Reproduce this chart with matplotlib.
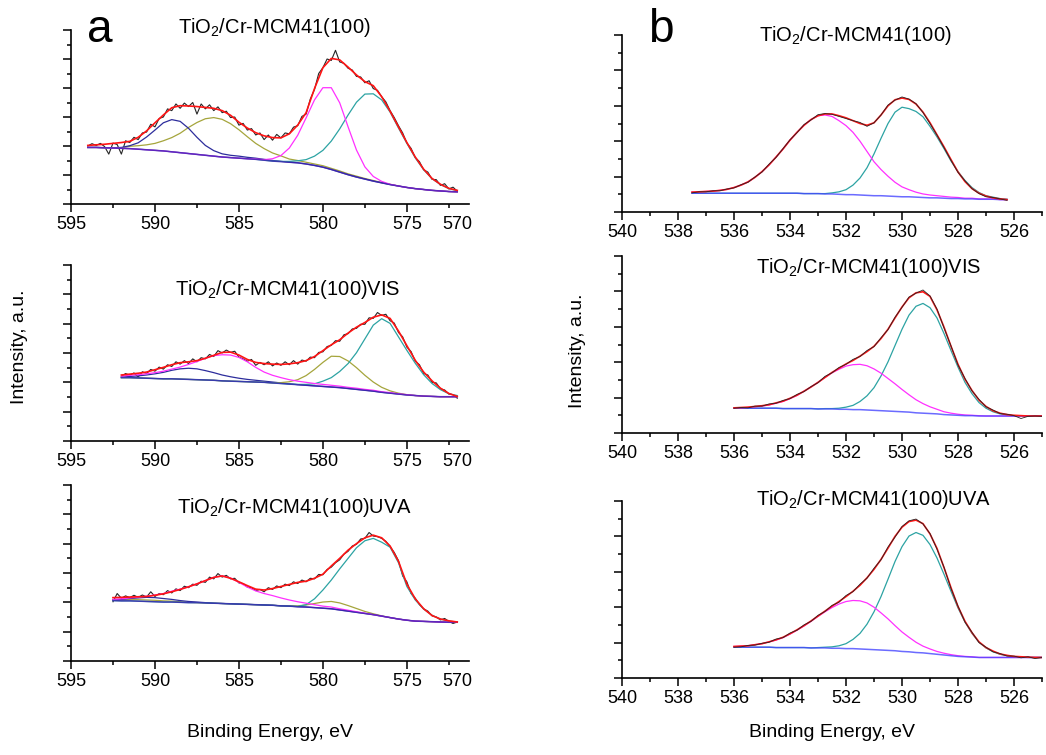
import numpy as np
import matplotlib
matplotlib.use("Agg")
import matplotlib.pyplot as plt
from matplotlib.ticker import MultipleLocator

plt.rcParams['font.family'] = ['Liberation Sans', 'DejaVu Sans']
plt.rcParams['mathtext.fontset'] = 'custom'
plt.rcParams['mathtext.rm'] = 'Liberation Sans'

# ---------------- Cr 2p (column a) ----------------
# energy ranges (eV) for raw data / fitted curves
cr_top_range = (594.0, 572.0)
cr_vis_range = (592.0, 572.0)
cr_uva_range = (592.5, 572.0)

# TiO2/Cr-MCM41(100)
cr_top_raw = [2.00, 2.08, 2.02, 2.09, 1.98, 1.72, 2.10, 2.05, 1.72, 2.18,
              2.12, 2.30, 2.22, 2.45, 2.48, 2.75, 2.66, 2.95, 3.00, 3.28,
              3.22, 3.45, 3.30, 3.48, 3.36, 3.50, 3.10, 3.45, 3.28, 3.42,
              3.22, 3.35, 3.15, 3.20, 2.98, 3.00, 2.72, 2.78, 2.55, 2.60,
              2.38, 2.45, 2.22, 2.38, 2.20, 2.40, 2.28, 2.45, 2.42, 2.65,
              2.70, 3.02, 3.10, 3.62, 3.95, 4.50, 4.70, 5.00, 4.95, 5.30,
              4.90, 4.85, 4.68, 4.62, 4.40, 4.38, 4.18, 4.25, 3.98, 3.92,
              3.70, 3.52, 3.22, 2.98, 2.70, 2.45, 2.10, 1.92, 1.60, 1.46,
              1.18, 1.10, 0.85, 0.84, 0.64, 0.70, 0.52, 0.58, 0.44]
cr_top_fit = [2.02, 2.04, 2.06, 2.09, 2.12, 2.16, 2.30, 2.52, 2.80, 3.07,
              3.32, 3.39, 3.38, 3.36, 3.33, 3.30, 3.22, 3.06, 2.82, 2.62,
              2.46, 2.35, 2.29, 2.28, 2.42, 2.72, 3.15, 3.98, 4.70, 5.02,
              4.97, 4.72, 4.45, 4.22, 4.08, 3.70, 3.20, 2.66, 2.12, 1.62,
              1.20, 0.88, 0.68, 0.54, 0.47]
cr_top_bg = [1.95, 1.95, 1.94, 1.93, 1.92, 1.91, 1.89, 1.87, 1.85, 1.83,
             1.80, 1.77, 1.74, 1.71, 1.68, 1.65, 1.62, 1.60, 1.58, 1.56,
             1.54, 1.51, 1.48, 1.46, 1.44, 1.42, 1.38, 1.33, 1.27, 1.19,
             1.10, 1.01, 0.93, 0.86, 0.79, 0.73, 0.67, 0.62, 0.57, 0.53,
             0.50, 0.47, 0.45, 0.43, 0.42]
cr_top_blue = [0.0, 0.0, 0.0, 0.01, 0.03, 0.10, 0.22, 0.44, 0.70, 0.97,
               1.11, 1.08, 0.87, 0.59, 0.34, 0.19, 0.11, 0.08, 0.07, 0.05,
               0.04, 0.03, 0.02, 0.01] + [0.0] * 21
cr_top_olive = [0.0, 0.0, 0.0, 0.01, 0.02, 0.08, 0.12, 0.17, 0.24, 0.35,
                0.49, 0.67, 0.90, 1.10, 1.26, 1.33, 1.30, 1.17, 0.98, 0.76,
                0.55, 0.40, 0.28, 0.20, 0.11, 0.08, 0.06, 0.05, 0.05, 0.04,
                0.04, 0.03, 0.03, 0.02, 0.02, 0.01, 0.01] + [0.0] * 8
cr_top_magenta = [0.0] * 20 + [0.01, 0.02, 0.08, 0.21, 0.49, 0.95, 1.59, 2.26,
                               2.74, 2.82, 2.39, 1.65, 0.93, 0.42, 0.16, 0.05,
                               0.01] + [0.0] * 8
cr_top_teal = [0.0] * 22 + [0.0, 0.01, 0.03, 0.07, 0.15, 0.32, 0.58, 0.98,
                            1.49, 2.06, 2.58, 2.93, 3.01, 2.86, 2.50, 2.00,
                            1.52, 1.06, 0.68, 0.40, 0.22, 0.10, 0.04]

# TiO2/Cr-MCM41(100)VIS
cr_vis_raw = [2.20, 2.30, 2.24, 2.32, 2.18, 2.36, 2.30, 2.44, 2.38, 2.52,
              2.45, 2.60, 2.54, 2.70, 2.62, 2.74, 2.64, 2.80, 2.70, 2.84,
              2.80, 2.95, 2.88, 3.08, 3.00, 3.10, 3.02, 3.06, 2.86, 2.80,
              2.72, 2.78, 2.58, 2.68, 2.60, 2.70, 2.56, 2.66, 2.58, 2.70,
              2.60, 2.74, 2.62, 2.76, 2.72, 2.86, 2.84, 3.02, 3.04, 3.22,
              3.26, 3.42, 3.40, 3.62, 3.66, 3.82, 3.84, 3.98, 3.98, 4.20,
              4.18, 4.38, 4.28, 4.32, 4.10, 4.02, 3.70, 3.55, 3.20, 3.05,
              2.72, 2.60, 2.30, 2.25, 2.00, 1.98, 1.78, 1.74, 1.60, 1.58,
              1.46]
cr_vis_fit = [2.25, 2.28, 2.31, 2.35, 2.43, 2.51, 2.60, 2.67, 2.70, 2.74,
              2.82, 2.92, 3.02, 3.03, 2.93, 2.78, 2.68, 2.64, 2.62, 2.61,
              2.63, 2.67, 2.74, 2.88, 3.08, 3.28, 3.45, 3.68, 3.88, 4.04,
              4.22, 4.30, 4.18, 3.75, 3.25, 2.75, 2.35, 2.05, 1.80, 1.62,
              1.52]
cr_vis_bg = [2.16, 2.16, 2.15, 2.14, 2.13, 2.12, 2.12, 2.11, 2.10, 2.09,
             2.08, 2.07, 2.05, 2.04, 2.03, 2.02, 2.01, 2.00, 1.98, 1.96,
             1.94, 1.92, 1.90, 1.88, 1.86, 1.84, 1.82, 1.79, 1.76, 1.73,
             1.70, 1.66, 1.63, 1.60, 1.57, 1.55, 1.53, 1.52, 1.51, 1.51,
             1.51]
cr_vis_blue = [0.02, 0.04, 0.07, 0.11, 0.16, 0.22, 0.29, 0.35, 0.38, 0.37,
               0.32, 0.26, 0.20, 0.15, 0.11, 0.08, 0.06, 0.04, 0.03, 0.02,
               0.01] + [0.0] * 20
cr_vis_magenta = [0.05, 0.08, 0.11, 0.15, 0.20, 0.26, 0.33, 0.41, 0.51, 0.62,
                  0.74, 0.84, 0.89, 0.89, 0.82, 0.68, 0.50, 0.35, 0.26, 0.20,
                  0.15, 0.12, 0.10, 0.08, 0.07, 0.06, 0.05, 0.04, 0.04, 0.03,
                  0.03, 0.02, 0.02, 0.01, 0.01] + [0.0] * 6
cr_vis_olive = [0.0] * 19 + [0.03, 0.08, 0.17, 0.33, 0.56, 0.82, 1.05, 1.06,
                             0.94, 0.74, 0.51, 0.31, 0.17, 0.08, 0.03,
                             0.01] + [0.0] * 6
cr_vis_teal = [0.0] * 20 + [0.0, 0.01, 0.03, 0.07, 0.18, 0.32, 0.55, 0.85,
                            1.25, 1.75, 2.25, 2.51, 2.38, 1.95, 1.52, 1.10,
                            0.73, 0.44, 0.24, 0.10, 0.04]

# TiO2/Cr-MCM41(100)UVA
cr_uva_raw = [2.02, 2.30, 2.14, 2.22, 2.16, 2.24, 2.17, 2.25, 2.18, 2.36,
              2.20, 2.30, 2.26, 2.40, 2.32, 2.46, 2.40, 2.55, 2.50, 2.62,
              2.58, 2.72, 2.68, 2.86, 2.80, 2.98, 2.86, 2.92, 2.80, 2.82,
              2.66, 2.64, 2.52, 2.50, 2.40, 2.44, 2.36, 2.50, 2.44, 2.56,
              2.50, 2.62, 2.57, 2.70, 2.64, 2.76, 2.70, 2.82, 2.80, 2.95,
              2.94, 3.12, 3.20, 3.35, 3.45, 3.64, 3.74, 3.92, 3.98, 4.16,
              4.18, 4.38, 4.26, 4.24, 4.18, 4.08, 3.90, 3.70, 3.42, 2.90,
              2.70, 2.30, 2.14, 1.92, 1.78, 1.70, 1.54, 1.50, 1.40, 1.45,
              1.35, 1.28, 1.33]
cr_uva_fit = [2.16, 2.17, 2.18, 2.19, 2.20, 2.24, 2.29, 2.36, 2.44, 2.53,
              2.63, 2.74, 2.85, 2.90, 2.82, 2.70, 2.57, 2.45, 2.42, 2.47,
              2.54, 2.61, 2.68, 2.72, 2.82, 2.96, 3.24, 3.50, 3.78, 4.00,
              4.20, 4.29, 4.20, 3.92, 3.40, 2.62, 2.12, 1.78, 1.55, 1.43,
              1.37, 1.33]
cr_uva_bg = [2.06, 2.05, 2.05, 2.04, 2.03, 2.02, 2.01, 2.01, 2.00, 1.99,
             1.99, 1.98, 1.97, 1.96, 1.95, 1.94, 1.93, 1.92, 1.91, 1.90,
             1.88, 1.87, 1.85, 1.84, 1.82, 1.80, 1.78, 1.74, 1.70, 1.66,
             1.62, 1.58, 1.53, 1.48, 1.43, 1.39, 1.36, 1.35, 1.34, 1.33,
             1.32, 1.32]
cr_uva_blue = [0.03, 0.05, 0.08, 0.11, 0.14, 0.14, 0.12, 0.09, 0.06, 0.04,
               0.02, 0.01] + [0.0] * 30
cr_uva_olive = [0.02, 0.03, 0.04, 0.05, 0.05, 0.05, 0.04, 0.03, 0.02, 0.01] \
    + [0.0] * 11 \
    + [0.01, 0.03, 0.07, 0.14, 0.21, 0.25, 0.24, 0.19, 0.13, 0.07, 0.03, 0.01] \
    + [0.0] * 9
cr_uva_magenta = [0.04, 0.07, 0.10, 0.14, 0.18, 0.23, 0.29, 0.37, 0.45, 0.54,
                  0.64, 0.76, 0.88, 0.94, 0.88, 0.74, 0.59, 0.47, 0.39, 0.33,
                  0.27, 0.21, 0.17, 0.13, 0.10, 0.07, 0.06, 0.04, 0.03, 0.02,
                  0.01] + [0.0] * 11
cr_uva_teal = [0.0] * 22 + [0.01, 0.08, 0.30, 0.62, 0.98, 1.40, 1.80, 2.20,
                            2.48, 2.60, 2.52, 2.40, 1.92, 1.15, 0.72, 0.42,
                            0.22, 0.10, 0.04, 0.01]

# ---------------- O 1s (column b) ----------------
o_top_range = (537.5, 526.25)
o_vis_range = (536.0, 525.0)
o_uva_range = (536.0, 525.0)

o_top_raw = [0.54, 0.57, 0.57, 0.60, 0.60, 0.65, 0.68, 0.77, 0.84, 0.99,
             1.13, 1.35, 1.54, 1.79, 2.04, 2.24, 2.47, 2.60, 2.75, 2.78,
             2.76, 2.70, 2.64, 2.58, 2.53, 2.42, 2.52, 2.74, 3.02, 3.16,
             3.25, 3.19, 3.06, 2.81, 2.50, 2.17, 1.82, 1.46, 1.12, 0.88,
             0.66, 0.52, 0.43, 0.41, 0.37, 0.33]
o_top_fit = [0.56, 0.57, 0.58, 0.59, 0.61, 0.64, 0.69, 0.76, 0.85, 0.98,
             1.14, 1.33, 1.55, 1.78, 2.03, 2.25, 2.45, 2.61, 2.72, 2.77,
             2.77, 2.72, 2.66, 2.58, 2.50, 2.45, 2.52, 2.74, 3.00, 3.17,
             3.22, 3.18, 3.05, 2.82, 2.52, 2.18, 1.84, 1.48, 1.13, 0.86,
             0.66, 0.53, 0.45, 0.40, 0.37, 0.35]
o_top_bg = [0.53] * 16 + [0.52, 0.52, 0.52, 0.51, 0.51, 0.50, 0.49, 0.49,
                          0.48, 0.47, 0.46, 0.46, 0.45, 0.44, 0.43, 0.43,
                          0.42, 0.41, 0.40, 0.40, 0.39, 0.38, 0.38, 0.37,
                          0.37, 0.36, 0.36, 0.36, 0.35, 0.35]
o_top_magenta = [0.03, 0.04, 0.05, 0.06, 0.08, 0.11, 0.16, 0.23, 0.32, 0.45,
                 0.61, 0.80, 1.02, 1.25, 1.50, 1.72, 1.93, 2.09, 2.20, 2.23,
                 2.19, 2.08, 1.95, 1.76, 1.52, 1.24, 0.96, 0.74, 0.56, 0.40,
                 0.28, 0.20, 0.14, 0.10, 0.08, 0.06, 0.05, 0.04, 0.03, 0.02,
                 0.02, 0.01, 0.01, 0.01, 0.0, 0.0]
o_top_teal = [0.0] * 18 + [0.0, 0.01, 0.03, 0.07, 0.14, 0.27, 0.48, 0.78,
                           1.18, 1.62, 2.05, 2.38, 2.53, 2.49, 2.42, 2.28,
                           2.02, 1.72, 1.40, 1.06, 0.76, 0.52, 0.32, 0.19,
                           0.10, 0.06, 0.03, 0.01]

o_vis_raw = [0.70, 0.72, 0.71, 0.76, 0.76, 0.82, 0.84, 0.92, 0.97, 1.09,
             1.17, 1.31, 1.42, 1.60, 1.70, 1.85, 1.94, 2.08, 2.16, 2.33,
             2.44, 2.69, 2.92, 3.27, 3.55, 3.84, 3.95, 4.04, 3.87, 3.50,
             2.97, 2.46, 1.92, 1.54, 1.19, 0.95, 0.74, 0.65, 0.55, 0.53,
             0.49, 0.41, 0.47, 0.48, 0.47]
o_vis_fit = [0.71, 0.72, 0.73, 0.75, 0.77, 0.80, 0.85, 0.90, 0.98, 1.07,
             1.18, 1.30, 1.43, 1.57, 1.71, 1.83, 1.95, 2.05, 2.17, 2.30,
             2.45, 2.67, 2.93, 3.25, 3.56, 3.82, 3.96, 3.99, 3.86, 3.48,
             2.99, 2.45, 1.94, 1.52, 1.20, 0.93, 0.75, 0.63, 0.56, 0.52,
             0.50, 0.49, 0.48, 0.48, 0.48]
o_vis_bg = [0.70, 0.70, 0.70, 0.70, 0.70, 0.70, 0.70, 0.69, 0.69, 0.69,
            0.69, 0.69, 0.68, 0.68, 0.68, 0.67, 0.67, 0.66, 0.66, 0.65,
            0.64, 0.63, 0.62, 0.61, 0.60, 0.59, 0.57, 0.56, 0.55, 0.54,
            0.52, 0.51, 0.50, 0.49, 0.49] + [0.48] * 10
o_vis_magenta = [0.01, 0.01, 0.02, 0.04, 0.06, 0.09, 0.14, 0.20, 0.28, 0.37,
                 0.49, 0.61, 0.75, 0.89, 1.02, 1.13, 1.22, 1.27, 1.28, 1.25,
                 1.17, 1.06, 0.92, 0.78, 0.63, 0.49, 0.37, 0.27, 0.19, 0.13,
                 0.08, 0.05, 0.03, 0.02, 0.01, 0.01] + [0.0] * 9
o_vis_teal = [0.0] * 13 + [0.01, 0.01, 0.03, 0.06, 0.12, 0.23, 0.40, 0.64,
                           0.98, 1.39, 1.86, 2.33, 2.74, 3.01, 3.10, 2.99,
                           2.71, 2.29, 1.82, 1.36, 0.94, 0.62, 0.38, 0.22,
                           0.12, 0.06, 0.03, 0.01] + [0.0] * 4

o_uva_raw = [0.87, 0.88, 0.92, 0.93, 0.98, 1.01, 1.10, 1.14, 1.27, 1.35,
             1.50, 1.60, 1.77, 1.88, 2.05, 2.14, 2.33, 2.44, 2.65, 2.82,
             3.10, 3.34, 3.70, 3.98, 4.28, 4.44, 4.49, 4.35, 4.08, 3.64,
             3.13, 2.53, 2.03, 1.58, 1.29, 1.00, 0.87, 0.74, 0.69, 0.62,
             0.62, 0.57, 0.60, 0.55, 0.58]
o_uva_fit = [0.89, 0.90, 0.91, 0.94, 0.97, 1.02, 1.08, 1.15, 1.25, 1.36,
             1.48, 1.61, 1.75, 1.89, 2.03, 2.16, 2.30, 2.45, 2.62, 2.83,
             3.07, 3.35, 3.67, 4.00, 4.26, 4.42, 4.46, 4.36, 4.07, 3.66,
             3.12, 2.55, 2.02, 1.60, 1.28, 1.02, 0.86, 0.76, 0.68, 0.64,
             0.61, 0.60, 0.59, 0.58, 0.58]
o_uva_bg = [0.87, 0.87, 0.87, 0.87, 0.87, 0.87, 0.86, 0.86, 0.86, 0.86,
            0.86, 0.85, 0.85, 0.85, 0.84, 0.84, 0.83, 0.83, 0.82, 0.81,
            0.80, 0.79, 0.78, 0.77, 0.75, 0.74, 0.72, 0.71, 0.69, 0.67,
            0.65, 0.63, 0.61, 0.60, 0.59] + [0.58] * 10
o_uva_magenta = [0.02, 0.03, 0.04, 0.07, 0.10, 0.15, 0.21, 0.28, 0.38, 0.49,
                 0.61, 0.75, 0.89, 1.02, 1.15, 1.25, 1.33, 1.36, 1.36, 1.31,
                 1.20, 1.05, 0.89, 0.71, 0.55, 0.41, 0.29, 0.19, 0.13, 0.08,
                 0.05, 0.03, 0.02, 0.01, 0.01] + [0.0] * 10
o_uva_teal = [0.0] * 12 + [0.01, 0.02, 0.04, 0.07, 0.14, 0.26, 0.44, 0.71,
                           1.07, 1.51, 2.01, 2.52, 2.96, 3.27, 3.39, 3.32,
                           3.08, 2.72, 2.28, 1.82, 1.37, 0.98, 0.67, 0.43,
                           0.27, 0.16, 0.09, 0.05, 0.02, 0.01] + [0.0] * 3

titles = ['TiO$_\\mathregular{2}$/Cr-MCM41(100)',
          'TiO$_\\mathregular{2}$/Cr-MCM41(100)VIS',
          'TiO$_\\mathregular{2}$/Cr-MCM41(100)UVA']

DATA = '#262626'
FIT = '#ff1414'
BLUE = '#2d2d9c'
OLIVE = '#a5a53c'
MAGENTA = '#ff30ff'
TEAL = '#2ca3a3'
BG_CR = '#3a22b0'
BG_O = '#4646ff'

W, H = 1046, 755


def grid(rng, values):
    return np.linspace(rng[0], rng[1], len(values))


def draw_spectrum(ax, rng, raw, fit, bg, parts, bg_color, raw_on_top=False):
    # the O 1s raw traces sit over the envelope, the noisy Cr 2p ones under it
    ax.plot(grid(rng, raw), raw, color=DATA,
            lw=0.6 if raw_on_top else 0.8, zorder=6 if raw_on_top else 2)
    x = grid(rng, bg)
    base = np.array(bg)
    for peak, color in parts:
        ax.plot(x, base + np.array(peak), color=color, lw=0.9, zorder=3)
    ax.plot(x, base, color=bg_color, lw=1.1, alpha=0.8, zorder=4)
    ax.plot(grid(rng, fit), fit, color=FIT, lw=1.2, zorder=5)


def style(ax, xlim, ytop, major):
    ax.set_xlim(*xlim)
    ax.set_ylim(0, ytop)
    for side in ('top', 'right'):
        ax.spines[side].set_visible(False)
    for side in ('left', 'bottom'):
        ax.spines[side].set_linewidth(1.2)
    ax.xaxis.set_major_locator(MultipleLocator(major))
    ax.xaxis.set_minor_locator(MultipleLocator(major / 2))
    ax.yaxis.set_major_locator(MultipleLocator(1))
    ax.yaxis.set_minor_locator(MultipleLocator(0.5))
    ax.tick_params(which='major', direction='out', length=5.5, width=1.1,
                   labelsize=13, pad=3)
    ax.tick_params(which='minor', direction='out', length=3, width=1.1)
    ax.tick_params(axis='y', which='both', labelleft=False)


def axes_px(x0, x1, y0, y1):
    return fig.add_axes([x0 / W, 1 - y1 / H, (x1 - x0) / W, (y1 - y0) / H])


fig = plt.figure(figsize=(W / 100, H / 100), dpi=100)

# column a: Cr 2p
left_rows = [(30, 204), (265, 441), (485, 661)]
cr_sets = [
    (cr_top_range, cr_top_raw, cr_top_fit, cr_top_bg,
     [(cr_top_olive, OLIVE), (cr_top_blue, BLUE),
      (cr_top_teal, TEAL), (cr_top_magenta, MAGENTA)]),
    (cr_vis_range, cr_vis_raw, cr_vis_fit, cr_vis_bg,
     [(cr_vis_blue, BLUE), (cr_vis_olive, OLIVE),
      (cr_vis_teal, TEAL), (cr_vis_magenta, MAGENTA)]),
    (cr_uva_range, cr_uva_raw, cr_uva_fit, cr_uva_bg,
     [(cr_uva_olive, OLIVE), (cr_uva_blue, BLUE),
      (cr_uva_teal, TEAL), (cr_uva_magenta, MAGENTA)]),
]
for (y0, y1), (rng, raw, fit, bg, parts) in zip(left_rows, cr_sets):
    ax = axes_px(71, 469, y0, y1)
    draw_spectrum(ax, rng, raw, fit, bg, parts, BG_CR)
    style(ax, (595, 571.3), 6, 5)
    ax.annotate('570', xy=(572.0, 0), xycoords=('data', 'axes fraction'),
                xytext=(0, -8.5), textcoords='offset points',
                ha='center', va='top', fontsize=13)

# column b: O 1s
right_rows = [(35, 212), (256, 433), (501, 678)]
o_sets = [
    (o_top_range, o_top_raw, o_top_fit, o_top_bg,
     [(o_top_teal, TEAL), (o_top_magenta, MAGENTA)]),
    (o_vis_range, o_vis_raw, o_vis_fit, o_vis_bg,
     [(o_vis_teal, TEAL), (o_vis_magenta, MAGENTA)]),
    (o_uva_range, o_uva_raw, o_uva_fit, o_uva_bg,
     [(o_uva_teal, TEAL), (o_uva_magenta, MAGENTA)]),
]
for (y0, y1), (rng, raw, fit, bg, parts) in zip(right_rows, o_sets):
    ax = axes_px(622, 1042, y0, y1)
    draw_spectrum(ax, rng, raw, fit, bg, parts, BG_O, raw_on_top=True)
    style(ax, (540, 525), 5, 2)

# panel titles (centre x, baseline y in pixels)
title_pos = [(274, 33), (288, 295), (295, 513),
             (855, 41), (869, 273), (874, 505)]
for (px, py), text in zip(title_pos, titles + titles):
    fig.text(px / W, 1 - py / H, text, ha='center', va='baseline', fontsize=14.5)

fig.text(87 / W, 1 - 42 / H, 'a', fontsize=33, va='baseline')
fig.text(648 / W, 1 - 42 / H, 'b', fontsize=33, va='baseline')

fig.text(270 / W, 1 - 737 / H, 'Binding Energy, eV', ha='center',
         va='baseline', fontsize=14)
fig.text(832 / W, 1 - 737 / H, 'Binding Energy, eV', ha='center',
         va='baseline', fontsize=14)
fig.text(20 / W, 1 - 347 / H, 'Intensity, a.u.', rotation=90, ha='center',
         va='center', fontsize=14)
fig.text(578 / W, 1 - 351 / H, 'Intensity, a.u.', rotation=90, ha='center',
         va='center', fontsize=14)

fig.savefig('out.png', dpi=100)
